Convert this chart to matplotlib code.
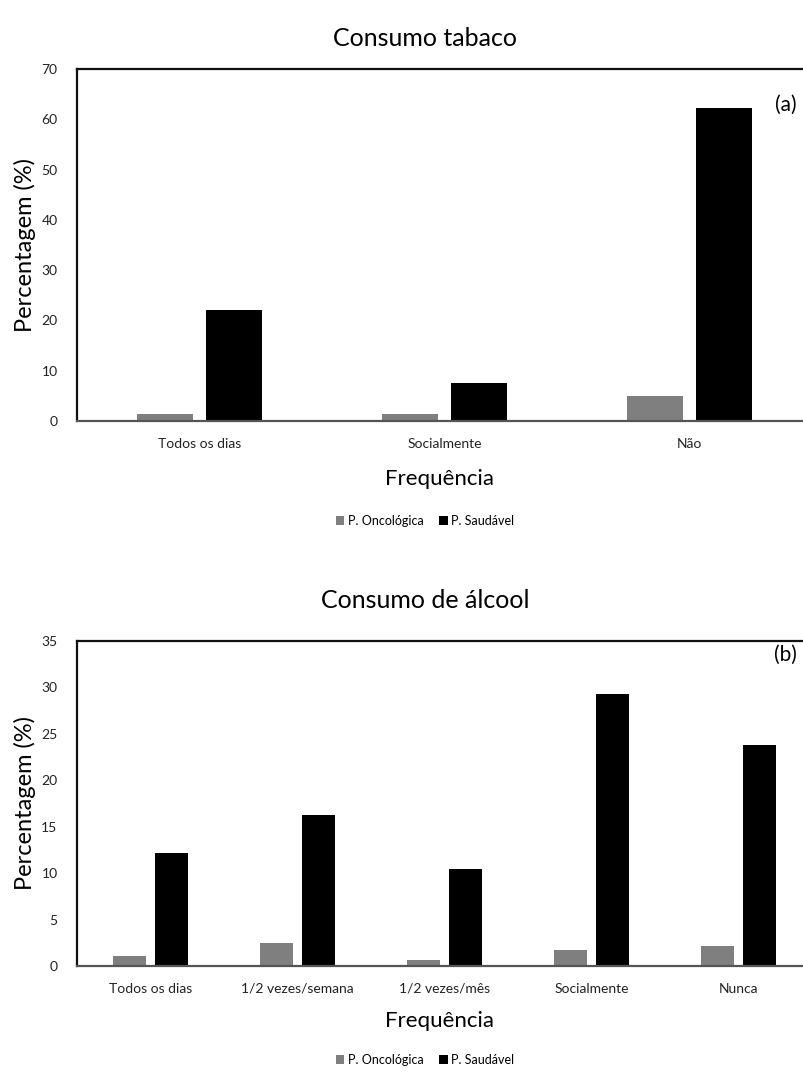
import matplotlib
matplotlib.use("Agg")
import matplotlib.pyplot as plt
import numpy as np

plt.rcParams['font.family'] = ['Lato', 'DejaVu Sans']

series_names = ['P. Oncológica', 'P. Saudável']
series_colors = ['#7f7f7f', '#000000']

tabaco_cats = ['Todos os dias', 'Socialmente', 'Não']
tabaco_onc = [1.3, 1.3, 5.0]
tabaco_saud = [22.0, 7.5, 62.3]

alcool_cats = ['Todos os dias', '1/2 vezes/semana', '1/2 vezes/mês', 'Socialmente', 'Nunca']
alcool_onc = [1.1, 2.5, 0.6, 1.7, 2.2]
alcool_saud = [12.2, 16.3, 10.5, 29.3, 23.8]


def draw_panel(fig, rect, cats, onc, saud, ymax, ystep, title, title_y, tag, tag_y,
               xlabel_y, legend_y):
    ax = fig.add_axes(rect)
    x = np.arange(len(cats))
    width = 0.225
    ax.bar(x - 0.141, onc, width, color=series_colors[0], label=series_names[0])
    ax.bar(x + 0.141, saud, width, color=series_colors[1], label=series_names[1])
    ax.set_xlim(-0.5, len(cats) - 0.5)
    ax.set_ylim(0, ymax)
    ax.set_yticks(np.arange(0, ymax + 0.1, ystep))
    ax.set_xticks(x)
    ax.set_xticklabels(cats, fontsize=10)
    ax.tick_params(axis='both', length=0, labelsize=10, colors='#222222')
    ax.tick_params(axis='x', pad=12)
    ax.tick_params(axis='y', pad=14)
    ax.spines['right'].set_visible(False)
    for side in ['left', 'top']:
        ax.spines[side].set_color('#111111')
        ax.spines[side].set_linewidth(1.6)
    ax.spines['bottom'].set_color('#555555')
    ax.spines['bottom'].set_linewidth(1.6)
    ax.set_ylabel('Percentagem (%)', fontsize=17, labelpad=4)
    fig.text(425 / 804, 1 - title_y / 1074, title, fontsize=18, ha='center', va='center')
    fig.text(440 / 804, 1 - xlabel_y / 1074, 'Frequência', fontsize=16, ha='center', va='center')
    fig.text(797 / 804, 1 - tag_y / 1074, tag, fontsize=15, ha='right', va='center')
    fig.legend(*ax.get_legend_handles_labels(), loc='center', ncol=2,
               bbox_to_anchor=(425 / 804, 1 - legend_y / 1074), frameon=False,
               fontsize=9, handlelength=0.7, handleheight=0.7, handletextpad=0.3,
               columnspacing=1.2)
    return ax


fig = plt.figure(figsize=(8.04, 10.74), dpi=100)

draw_panel(fig, [77 / 804, 1 - 421 / 1074, 735 / 804, 352 / 1074],
           tabaco_cats, tabaco_onc, tabaco_saud, 70, 10,
           'Consumo tabaco', 38, '(a)', 105, 479, 521)

draw_panel(fig, [77 / 804, 1 - 966 / 1074, 735 / 804, 325 / 1074],
           alcool_cats, alcool_onc, alcool_saud, 35, 5,
           'Consumo de álcool', 600, '(b)', 655, 1021, 1060)

fig.savefig('out.png', dpi=100)
